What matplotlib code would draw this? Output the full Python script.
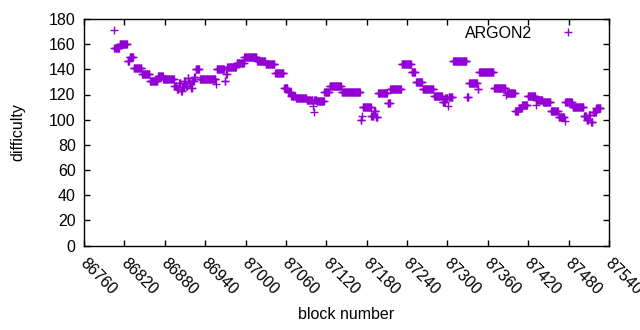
import matplotlib
matplotlib.use("Agg")
import matplotlib.pyplot as plt
import matplotlib.transforms as mtransforms

# Runs of constant difficulty: start block, end block, value
run_start = [86804, 86805, 86813, 86825, 86828, 86834, 86846, 86858, 86870, 86878,
             86894, 86898, 86901, 86904, 86906, 86909, 86911, 86914, 86916, 86919,
             86921, 86924, 86926, 86932, 86956, 86957, 86969, 86971, 86973, 86987,
             86998, 87017, 87030, 87044, 87057, 87063, 87068, 87075, 87091, 87100,
             87101, 87102, 87106, 87117, 87125, 87143, 87171, 87173, 87174, 87187,
             87191, 87194, 87197, 87211, 87215, 87232, 87247, 87253, 87263, 87280,
             87293, 87297, 87301, 87302, 87308, 87329, 87332, 87345, 87347, 87369,
             87387, 87388, 87401, 87406, 87411, 87419, 87431, 87432, 87442, 87454,
             87465, 87474, 87475, 87486, 87503, 87507, 87510, 87513, 87516, 87521]
run_end = [86804, 86812, 86824, 86827, 86833, 86845, 86857, 86869, 86877, 86893,
           86897, 86900, 86903, 86905, 86908, 86910, 86913, 86915, 86918, 86920,
           86923, 86925, 86931, 86955, 86956, 86968, 86970, 86972, 86986, 86997,
           87016, 87029, 87043, 87056, 87062, 87067, 87074, 87090, 87099, 87100,
           87101, 87105, 87116, 87124, 87142, 87170, 87172, 87173, 87186, 87190,
           87193, 87196, 87210, 87214, 87231, 87246, 87252, 87262, 87279, 87292,
           87296, 87300, 87301, 87307, 87328, 87331, 87344, 87346, 87368, 87386,
           87387, 87400, 87405, 87410, 87418, 87430, 87431, 87441, 87453, 87464,
           87473, 87474, 87485, 87502, 87506, 87509, 87512, 87515, 87520, 87527]
run_value = [171, 157, 160, 147, 150, 141, 136, 131, 135, 132,
             127, 124, 129, 123, 126, 131, 127, 133, 129, 125,
             131, 134, 140, 132, 128, 140, 131, 136, 142, 145,
             150, 147, 144, 137, 125, 122, 119, 117, 116, 111,
             106, 116, 115, 122, 127, 122, 100, 103, 110, 103,
             107, 102, 121, 113, 124, 144, 138, 130, 124, 119,
             114, 117, 111, 118, 147, 118, 129, 124, 138, 125,
             120, 121, 107, 109, 112, 119, 112, 116, 114, 107,
             102, 99, 114, 110, 103, 100, 104, 98, 106, 109]

x_ticks = list(range(86760, 87541, 60))
y_ticks = list(range(0, 181, 20))

blocks = []
diffs = []
for s, e, v in zip(run_start, run_end, run_value):
    for b in range(s, e + 1):
        blocks.append(b)
        diffs.append(v)

plt.rcParams['font.family'] = ['Liberation Sans', 'DejaVu Sans']
fig = plt.figure(figsize=(6.4, 3.3), dpi=100)
ax = fig.add_axes([84/640, 1 - 245.5/330, (609-84)/640, (245.5-19)/330])

ax.plot(blocks, diffs, linestyle='none', marker='+', markersize=5.2,
        markeredgewidth=1.0, color='#9400D3', label='ARGON2')

ax.set_xlim(86760, 87540)
ax.set_ylim(0, 180)
ax.set_xticks(x_ticks)
ax.set_yticks(y_ticks)
ax.set_xticklabels([str(t) for t in x_ticks], rotation=-45, ha='left', va='top',
                   rotation_mode='anchor', fontsize=11.5)
ax.set_yticklabels([str(t) for t in y_ticks], fontsize=11.5)
ax.tick_params(direction='in', length=4, width=1, top=True, right=True, pad=6)
ax.tick_params(axis='x', pad=7)
for sp in ax.spines.values():
    sp.set_linewidth(1)
ax.set_xlabel('block number', fontsize=11.5, labelpad=7)
ax.set_ylabel('difficulty', fontsize=11.5, labelpad=17)

offset = mtransforms.ScaledTranslation(4/100, 0, fig.dpi_scale_trans)
for lab in ax.get_xticklabels():
    lab.set_transform(lab.get_transform() + offset)

leg = ax.legend(loc='upper right', frameon=False, markerfirst=False,
                fontsize=11.5, handlelength=1.5, handletextpad=1.5,
                borderaxespad=0.1, bbox_to_anchor=(0.960, 1.005))

fig.savefig('out.png', dpi=100)
